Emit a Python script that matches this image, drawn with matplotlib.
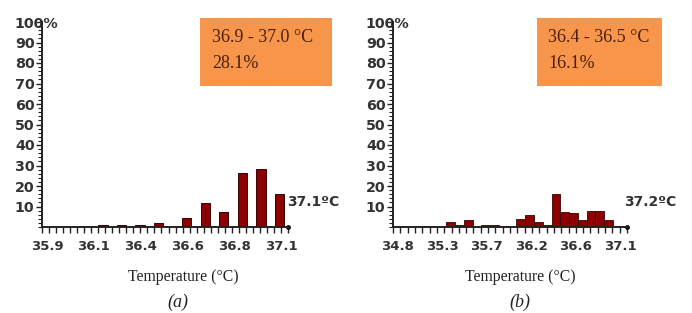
import matplotlib
matplotlib.use("Agg")
import matplotlib.pyplot as plt
from matplotlib.patches import Rectangle
import numpy as np

# panel (a): bar centres (deg C) and share (%)
temps_a = [36.1, 36.2, 36.3, 36.4, 36.55, 36.65, 36.75, 36.85, 36.95, 37.05]
share_a = [0.8, 0.8, 0.8, 1.8, 4.2, 11.6, 7.5, 26.2, 28.1, 15.9]
xticklabels_a = ["35.9", "36.1", "36.4", "36.6", "36.8", "37.1"]

# panel (b): bin starts (deg C, width 0.1) and share (%)
bins_b = [34.9, 35.2, 35.3, 35.4, 35.6, 35.7, 35.8, 36.0, 36.1, 36.2, 36.3,
          36.4, 36.5, 36.6, 36.7, 36.8, 36.9, 37.0]
share_b = [0.6, 2.2, 1.0, 3.4, 1.2, 1.2, 0.6, 3.9, 5.9, 2.2, 1.2,
           16.1, 7.5, 6.8, 3.4, 8.0, 8.0, 3.4]
xticklabels_b = ["34.8", "35.3", "35.7", "36.2", "36.6", "37.1"]

yticks = [10, 20, 30, 40, 50, 60, 70, 80, 90, 100]
yticklabels = ["10", "20", "30", "40", "50", "60", "70", "80", "90", "100%"]

box_a = ["36.9 - 37.0 \u00b0C", "28.1%"]
box_b = ["36.4 - 36.5 \u00b0C", "16.1%"]
max_a = "37.1\u00baC"
max_b = "37.2\u00baC"

W, H = 692, 313
fig = plt.figure(figsize=(W / 100, H / 100), dpi=100)
fig.patch.set_facecolor("white")


def px(x, y):
    # pixel (from top-left) -> figure fraction
    return x / W, 1 - y / H


def setup_axes(ax, xlim, labels, lab_range, n_minor):
    ax.set_xlim(*xlim)
    ax.set_ylim(0, 100)
    for s in ["top", "right"]:
        ax.spines[s].set_visible(False)
    for s in ["left", "bottom"]:
        ax.spines[s].set_linewidth(1.4)
        ax.spines[s].set_color("#222222")
    ax.patch.set_alpha(0)

    ax.set_yticks(yticks)
    ax.set_yticklabels(yticklabels, fontsize=10.3, fontweight="bold", color="#333333")
    ax.set_yticks(np.arange(0, 101, 2), minor=True)
    for t in ax.get_yticklabels():
        t.set_horizontalalignment("left")
    ax.tick_params(axis="y", which="major", length=4, width=1, color="#222222", pad=15.5)
    ax.tick_params(axis="y", which="minor", length=3, width=0.8, color="#222222")

    ax.set_xticks(np.linspace(lab_range[0], lab_range[1], len(labels)))
    ax.set_xticklabels(labels, fontsize=9.5, fontweight="bold", color="#333333")
    ax.set_xticks(np.linspace(xlim[0], xlim[1], n_minor), minor=True)
    ax.tick_params(axis="x", which="major", length=0, pad=9)
    ax.tick_params(axis="x", which="minor", length=4, width=1, color="#222222")

    ax.plot([xlim[1]], [0], "o", color="#111111", markersize=2.5, clip_on=False)


# panel (a)
ax_a = fig.add_axes([42 / W, 1 - 227 / H, (288 - 42) / W, (227 - 22) / H])
ax_a.bar(temps_a, share_a, width=0.05, color="#8b0000", edgecolor="#3a0000", linewidth=0.7)
setup_axes(ax_a, (35.773, 37.095), xticklabels_a, (35.80, 37.06), 36)

# panel (b)
ax_b = fig.add_axes([393 / W, 1 - 227 / H, (627 - 393) / W, (227 - 22) / H])
ax_b.bar(bins_b, share_b, width=0.1, align="edge", color="#8b0000",
         edgecolor="#3a0000", linewidth=0.6)
setup_axes(ax_b, (34.594, 37.26), xticklabels_b, (34.65, 37.18), 33)

# orange info boxes
for (x0, x1), lines, tx in [((200, 332), box_a, 212), ((537, 662), box_b, 548)]:
    fx0, fy1 = px(x0, 18)
    fx1, fy0 = px(x1, 86)
    fig.patches.append(Rectangle((fx0, fy0), fx1 - fx0, fy1 - fy0, transform=fig.transFigure,
                                 facecolor="#f7964a", edgecolor="none", zorder=0))
    fig.text(*px(tx, 38), lines[0], fontsize=13, family="Liberation Serif",
             color="#4a1e12", va="center", ha="left")
    fig.text(*px(tx, 63), lines[1], fontsize=13, family="Liberation Serif",
             color="#4a1e12", va="center", ha="left")

# max temperature labels
fig.text(*px(287, 202), max_a, fontsize=10, fontweight="bold", color="#333333", va="center")
fig.text(*px(624, 202), max_b, fontsize=10, fontweight="bold", color="#333333", va="center")

# axis titles and panel letters
for cx, letter in [(183, "(a)"), (520, "(b)")]:
    fig.text(*px(cx, 277), "Temperature (\u00b0C)", fontsize=11.3, family="Liberation Serif",
             color="#222222", ha="center", va="center")
    fig.text(*px(cx - 5 if letter == "(a)" else cx, 302), letter, fontsize=13,
             family="Liberation Serif", style="italic", color="#222222",
             ha="center", va="center")

fig.savefig("out.png", dpi=100)
